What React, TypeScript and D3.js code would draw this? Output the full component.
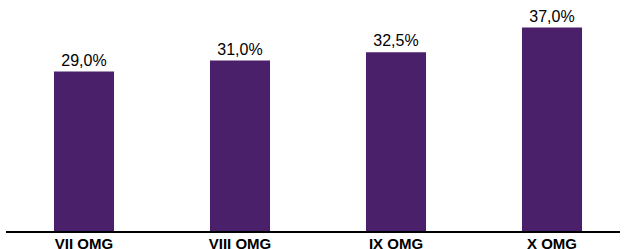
import React from 'react';
import * as d3 from 'd3';

const categories = ['VII OMG', 'VIII OMG', 'IX OMG', 'X OMG'];
const values = [29.0, 31.0, 32.5, 37.0];

const WIDTH = 625;
const HEIGHT = 249;
const BASE = 231;

const fmt = (v: number) => v.toFixed(1).replace('.', ',') + '%';

export default function App() {
  const x = d3
    .scaleBand<string>()
    .domain(categories)
    .range([6, 630])
    .paddingInner(0.615)
    .paddingOuter(0.3075);

  const y = d3.scaleLinear().domain([0, 40]).range([BASE, 11]);

  return (
    <svg
      width={WIDTH}
      height={HEIGHT}
      style={{ position: 'absolute', left: 0, top: 0 }}
      fontFamily="'Liberation Sans', Arial, sans-serif"
    >
      {/* bars */}
      {values.map((v, i) => (
        <rect
          key={categories[i]}
          x={x(categories[i])}
          y={y(v)}
          width={x.bandwidth()}
          height={BASE - y(v)}
          fill="#4a206a"
        />
      ))}
      {/* value labels */}
      {values.map((v, i) => (
        <text
          key={'l' + i}
          x={(x(categories[i]) ?? 0) + x.bandwidth() / 2}
          y={y(v) - 6}
          textAnchor="middle"
          fontSize={16}
          fill="#000"
        >
          {fmt(v)}
        </text>
      ))}
      {/* axis line */}
      <line x1={6} x2={620} y1={BASE + 1} y2={BASE + 1} stroke="#000" strokeWidth={2} />
      {/* category labels */}
      {categories.map((c) => (
        <text
          key={c}
          x={(x(c) ?? 0) + x.bandwidth() / 2}
          y={248.5}
          textAnchor="middle"
          fontSize={15}
          fontWeight="bold"
          fill="#000"
        >
          {c}
        </text>
      ))}
    </svg>
  );
}
